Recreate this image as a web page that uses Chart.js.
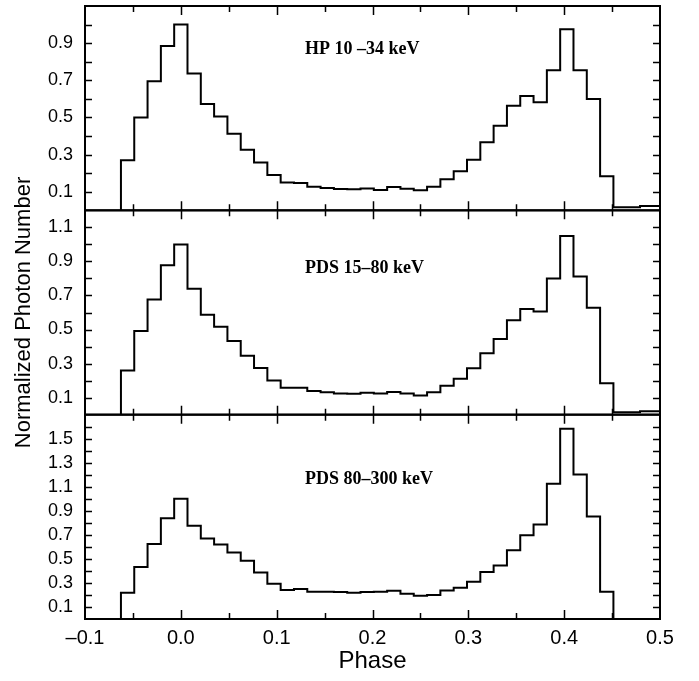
<!DOCTYPE html>
<html>
<head>
<meta charset="utf-8">
<script src="https://cdn.jsdelivr.net/npm/chart.js@4.4.0/dist/chart.umd.min.js"></script>
<style>
  html, body { margin: 0; padding: 0; background: #fff; }
</style>
</head>
<body>
<canvas id="pulseChart" width="699" height="681"></canvas>
<script>
// phase bins are 1/72 wide, the first one centred on -4/72
const binWidth = 1 / 72;
const firstBin = -4;

const hpValues = [0.27, 0.50, 0.695, 0.885, 1.0, 0.737, 0.573, 0.505, 0.412, 0.326,
  0.258, 0.19, 0.15, 0.147, 0.127, 0.12, 0.115, 0.113, 0.118, 0.109,
  0.125, 0.116, 0.108, 0.127, 0.167, 0.21, 0.272, 0.367, 0.455, 0.563,
  0.616, 0.582, 0.754, 0.975, 0.754, 0.599, 0.183, 0.016, 0.016, 0.023, 0.023];

const pdsLowValues = [0.26, 0.491, 0.676, 0.878, 1.0, 0.739, 0.587, 0.516, 0.432, 0.346,
  0.274, 0.201, 0.158, 0.158, 0.139, 0.131, 0.125, 0.123, 0.129, 0.125,
  0.133, 0.125, 0.113, 0.131, 0.17, 0.211, 0.272, 0.36, 0.444, 0.555,
  0.62, 0.606, 0.80, 1.05, 0.811, 0.628, 0.184, 0.014, 0.014, 0.02, 0.02];

const pdsHighValues = [0.219, 0.432, 0.625, 0.838, 1.0, 0.775, 0.669, 0.62, 0.553, 0.484,
  0.387, 0.293, 0.241, 0.249, 0.227, 0.227, 0.224, 0.219, 0.224, 0.227,
  0.235, 0.21, 0.194, 0.199, 0.238, 0.26, 0.31, 0.39, 0.445, 0.573,
  0.697, 0.786, 1.126, 1.582, 1.203, 0.852, 0.227, 0, 0, 0, 0];

const panelLabels = ["HP 10 \u201334 keV", "PDS 15\u201380 keV", "PDS 80\u2013300 keV"];
const panelMax = [1.1, 1.2, 1.7];
const xTicks = [-0.1, 0.0, 0.1, 0.2, 0.3, 0.4, 0.5];

// turn bin values into step points at the bin edges
function histPoints(values) {
  const pts = [{ x: (firstBin - 0.5) * binWidth, y: 0 }];
  values.forEach((v, i) => pts.push({ x: (firstBin + i - 0.5) * binWidth, y: v }));
  pts.push({ x: (firstBin + values.length - 0.5) * binWidth, y: values[values.length - 1] });
  return pts;
}

const panelIds = ["y1", "y2", "y3"];

function yScale(idx) {
  const max = panelMax[idx];
  const s = {
    type: "linear",
    position: "left",
    stack: "panels",
    stackWeight: 1,
    min: 0,
    max: max,
    grid: { display: false, drawTicks: false },
    border: { display: false },
    ticks: {
      stepSize: 0.1,
      autoSkip: false,
      padding: 12,
      color: "#000",
      font: { family: "Liberation Sans, Arial", size: 18 },
      callback: v => {
        const n = Math.round(v * 10);
        return (n % 2 === 1 && v < max - 1e-6) ? (n / 10).toFixed(1) : "";
      }
    },
    afterFit: scale => {
      scale.width = 85;
      scale.paddingTop = 0;
      scale.paddingBottom = 0;
    }
  };
  if (idx === 1) {
    s.title = {
      display: true,
      text: "Normalized Photon Number",
      color: "#000",
      font: { family: "Liberation Sans, Arial", size: 22 },
      padding: { top: 11, bottom: 0 }
    };
  }
  return s;
}

// frame of each panel with inward ticks on all four sides
const frameTicks = {
  id: "frameTicks",
  afterDraw(chart) {
    const { ctx, chartArea } = chart;
    const xs = chart.scales.x;
    ctx.save();
    ctx.strokeStyle = "#000";
    panelIds.forEach(id => {
      const ys = chart.scales[id];
      ctx.lineWidth = 2;
      ctx.strokeRect(chartArea.left, ys.top, chartArea.right - chartArea.left, ys.bottom - ys.top);
      ctx.lineWidth = 1.5;
      ctx.beginPath();
      for (let i = 1; i / 10 < ys.max - 1e-6; i++) {
        const py = Math.round(ys.getPixelForValue(i / 10)) + 0.5;
        ctx.moveTo(chartArea.left, py);
        ctx.lineTo(chartArea.left + 7, py);
        ctx.moveTo(chartArea.right, py);
        ctx.lineTo(chartArea.right - 7, py);
      }
      for (let k = -1; k < 10; k++) {
        const px = Math.round(xs.getPixelForValue(k * 0.05)) + 0.5;
        const len = k % 2 === 0 ? 9 : 6;
        ctx.moveTo(px, ys.bottom);
        ctx.lineTo(px, ys.bottom - len);
        ctx.moveTo(px, ys.top);
        ctx.lineTo(px, ys.top + len);
      }
      ctx.stroke();
    });
    ctx.restore();
  }
};

// energy band label inside each panel
const bandLabels = {
  id: "bandLabels",
  afterDraw(chart, args, opts) {
    const { ctx } = chart;
    const xs = chart.scales.x;
    ctx.save();
    ctx.fillStyle = "#000";
    ctx.font = "bold 18px 'Liberation Serif', 'Times New Roman', serif";
    ctx.textBaseline = "middle";
    ctx.textAlign = "left";
    panelIds.forEach((id, i) => {
      const ys = chart.scales[id];
      ctx.fillText(panelLabels[i], xs.getPixelForValue(opts.x), ys.getPixelForValue(opts.y[i]));
    });
    ctx.restore();
  }
};

const datasets = [hpValues, pdsLowValues, pdsHighValues].map((vals, i) => ({
  label: panelLabels[i],
  data: histPoints(vals),
  xAxisID: "x",
  yAxisID: panelIds[i],
  borderColor: "#000",
  borderWidth: 2,
  pointRadius: 0,
  stepped: true,
  fill: false
}));

new Chart(document.getElementById("pulseChart"), {
  type: "line",
  data: { datasets },
  options: {
    responsive: false,
    animation: false,
    layout: { padding: { top: 6, right: 39, left: 0, bottom: 0 } },
    plugins: {
      legend: { display: false },
      tooltip: { enabled: false },
      bandLabels: { x: 0.1296, y: [0.866, 0.862, 1.164] }
    },
    scales: {
      x: {
        type: "linear",
        min: -0.1,
        max: 0.5,
        grid: { display: false, drawTicks: false },
        border: { display: false },
        afterBuildTicks: scale => { scale.ticks = xTicks.map(v => ({ value: v })); },
        ticks: {
          autoSkip: false,
          padding: 7,
          color: "#000",
          font: { family: "Liberation Sans, Arial", size: 20 },
          callback: v => v.toFixed(1).replace("-", "\u2013")
        },
        title: {
          display: true,
          text: "Phase",
          color: "#000",
          font: { family: "Liberation Sans, Arial", size: 24 },
          padding: { top: 0, bottom: 5 }
        },
        afterFit: scale => { scale.height = 62; }
      },
      // stacked left axes are laid out bottom-up, so the lowest panel goes first
      y3: yScale(2),
      y2: yScale(1),
      y1: yScale(0)
    }
  },
  plugins: [frameTicks, bandLabels]
});
</script>
</body>
</html>
